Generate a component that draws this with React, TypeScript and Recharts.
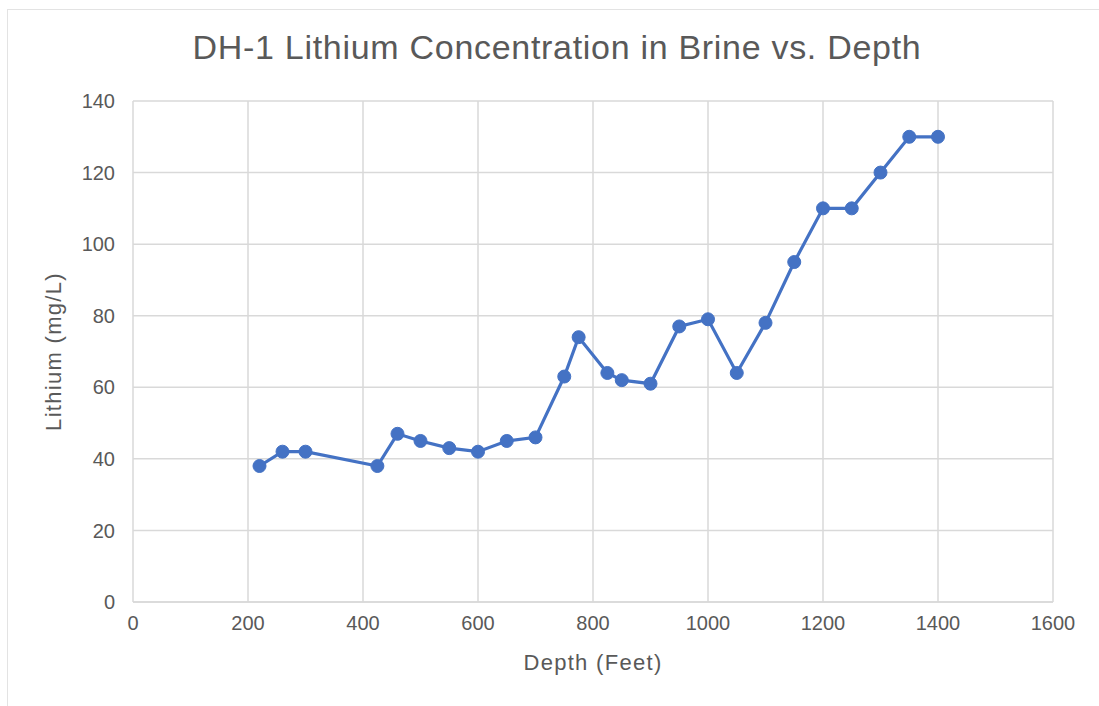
import React from "react";
import { LineChart, Line, XAxis, YAxis, CartesianGrid } from "recharts";

const depthFeet = [220, 260, 300, 425, 460, 500, 550, 600, 650, 700, 750, 775, 825, 850, 900, 950, 1000, 1050, 1100, 1150, 1200, 1250, 1300, 1350, 1400];
const lithiumMgL = [38, 42, 42, 38, 47, 45, 43, 42, 45, 46, 63, 74, 64, 62, 61, 77, 79, 64, 78, 95, 110, 110, 120, 130, 130];
const xTicks = [0, 200, 400, 600, 800, 1000, 1200, 1400, 1600];
const yTicks = [0, 20, 40, 60, 80, 100, 120, 140];

const data = depthFeet.map((d, i) => ({ depth: d, lithium: lithiumMgL[i] }));

const font = "'Liberation Sans', Arial, sans-serif";
const textColor = "#595959";
const gridColor = "#d9d9d9";
const blue = "#4472c4";

export default function App() {
  return (
    <div style={{ position: "absolute", left: 0, top: 0, width: 1099, height: 706, background: "#fff", fontFamily: font }}>
      <div style={{ position: "absolute", left: 7, top: 9, right: -2, bottom: -2, border: "1px solid #e3e3e3" }} />
      <div style={{ position: "absolute", left: 0, top: 28, width: 1114, textAlign: "center", fontSize: 34, letterSpacing: 0.7, color: textColor, whiteSpace: "nowrap" }}>
        DH-1 Lithium Concentration in Brine vs. Depth
      </div>
      <div style={{ position: "absolute", left: 0, top: 0 }}>
        <LineChart width={1099} height={706} data={data} margin={{ top: 101, right: 46, bottom: 44, left: 53 }}>
          <CartesianGrid stroke={gridColor} strokeWidth={1.5} />
          <XAxis
            type="number"
            dataKey="depth"
            domain={[0, 1600]}
            ticks={xTicks}
            height={60}
            axisLine={{ stroke: gridColor, strokeWidth: 1.5 }}
            tickLine={false}
            tick={{ fill: textColor, fontSize: 20, fontFamily: font }}
            tickMargin={8}
            label={{ value: "Depth (Feet)", position: "insideBottom", offset: -8, fill: textColor, fontSize: 22, fontFamily: font, style: { letterSpacing: 1.3 } }}
          />
          <YAxis
            type="number"
            domain={[0, 140]}
            ticks={yTicks}
            width={80}
            axisLine={false}
            tickLine={false}
            tick={{ fill: textColor, fontSize: 20, fontFamily: font }}
            tickMargin={12}
            label={{ value: "Lithium (mg/L)", angle: -90, position: "insideLeft", offset: 0, fill: textColor, fontSize: 22, fontFamily: font, style: { textAnchor: "middle", letterSpacing: 1.3 } }}
          />
          <Line
            type="linear"
            dataKey="lithium"
            stroke={blue}
            strokeWidth={3.2}
            dot={{ r: 6.5, fill: blue, stroke: blue, strokeWidth: 1 }}
            activeDot={false}
            isAnimationActive={false}
          />
        </LineChart>
      </div>
    </div>
  );
}
